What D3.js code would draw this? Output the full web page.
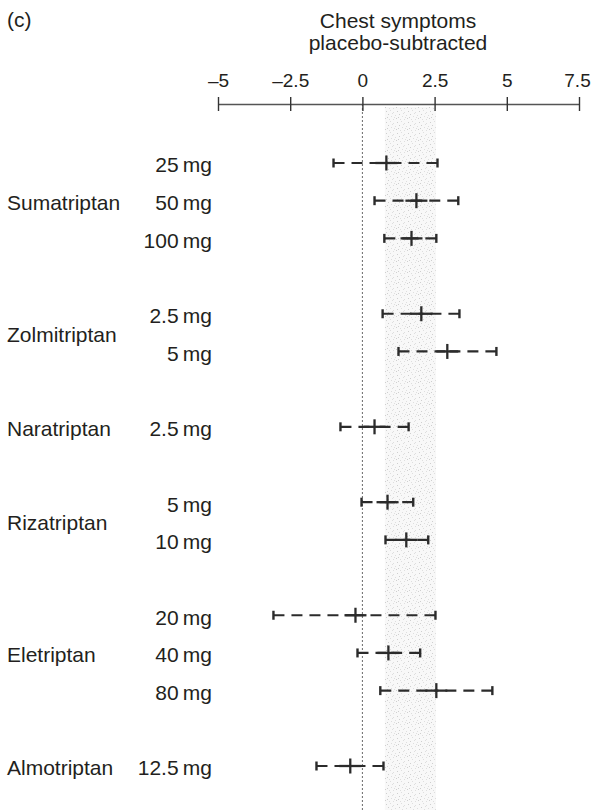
<!DOCTYPE html>
<html>
<head>
<meta charset="utf-8">
<script src="https://cdn.jsdelivr.net/npm/d3@7"></script>
<style>
  html, body { margin: 0; padding: 0; background: #fff; }
  svg { display: block; }
  text { font-family: "Liberation Sans", Arial, sans-serif; fill: #231f20; }
</style>
</head>
<body>
<svg id="chart" width="592" height="810"></svg>
<script>
// Chest symptoms, placebo-subtracted: mean and 95% CI per triptan dose
const drugNames = ["Sumatriptan", "Zolmitriptan", "Naratriptan", "Rizatriptan", "Eletriptan", "Almotriptan"];
const rowDrug   = ["Sumatriptan", "Sumatriptan", "Sumatriptan", "Zolmitriptan", "Zolmitriptan", "Naratriptan",
                   "Rizatriptan", "Rizatriptan", "Eletriptan", "Eletriptan", "Eletriptan", "Almotriptan"];
const doseLabels = ["25\u2009mg", "50\u2009mg", "100\u2009mg", "2.5\u2009mg", "5\u2009mg", "2.5\u2009mg",
                    "5\u2009mg", "10\u2009mg", "20\u2009mg", "40\u2009mg", "80\u2009mg", "12.5\u2009mg"];
const means  = [0.83, 1.87, 1.70, 2.04, 2.94, 0.42, 0.87, 1.52, -0.24, 0.90, 2.56, -0.42];
const lowers = [-1.00, 0.42, 0.76, 0.70, 1.25, -0.76, -0.03, 0.80, -3.08, -0.17, 0.62, -1.59];
const uppers = [2.60, 3.32, 2.56, 3.36, 4.64, 1.60, 1.76, 2.28, 2.53, 2.00, 4.50, 0.73];
const tickValues = [-5, -2.5, 0, 2.5, 5, 7.5];
const tickLabels = ["\u20135", "\u20132.5", "0", "2.5", "5", "7.5"];
const shadedBand = [0.78, 2.55];
const panelLabel = "(c)";
const titleLines = ["Chest symptoms", "placebo-subtracted"];

const svg = d3.select("#chart");
const W = 592, H = 810;
const axisY = 104;
const fs = 21;
const tickFs = 19;

const x = d3.scaleLinear().domain([-5, 7.5]).range([218, 579]);

// Row slots: rows of one drug are consecutive, one empty slot between drugs
const slots = [];
let s = 0;
rowDrug.forEach((d, i) => {
  if (i > 0 && d !== rowDrug[i - 1]) s += 1;
  slots.push(s);
  s += 1;
});
const y = d3.scaleLinear().domain([0, d3.max(slots)]).range([163, 766]);

const rows = means.map((m, i) => ({
  drug: rowDrug[i], dose: doseLabels[i], mean: m, lo: lowers[i], hi: uppers[i], slot: slots[i]
}));

// Stippled reference band
const defs = svg.append("defs");
const tile = 11;
const pat = defs.append("pattern").attr("id", "stipple")
  .attr("patternUnits", "userSpaceOnUse").attr("width", tile).attr("height", tile);
pat.append("rect").attr("width", tile).attr("height", tile).attr("fill", "#f8f8f8");
[[1, 1], [5, 0], [8, 2], [3, 4], [10, 5], [6, 6], [0, 8], [4, 9], [8, 9], [2, 7], [9, 7], [7, 3]].forEach(([px, py], k) => {
  pat.append("rect").attr("x", px).attr("y", py).attr("width", 1).attr("height", 1)
    .attr("fill", k % 3 === 0 ? "#cfcfcf" : "#dedede");
});
svg.append("rect")
  .attr("x", x(shadedBand[0])).attr("y", axisY + 3)
  .attr("width", x(shadedBand[1]) - x(shadedBand[0]))
  .attr("height", H - axisY - 3)
  .attr("fill", "url(#stipple)");

// Zero reference line
svg.append("line")
  .attr("x1", x(0)).attr("x2", x(0)).attr("y1", axisY).attr("y2", H)
  .attr("stroke", "#6a6a6a").attr("stroke-width", 1).attr("stroke-dasharray", "2,2");

// Top axis
const axis = d3.axisTop(x).tickValues(tickValues).tickFormat((d, i) => tickLabels[i])
  .tickSizeInner(7).tickSizeOuter(0).tickPadding(10);
const gAxis = svg.append("g").attr("transform", `translate(0,${axisY})`).call(axis);
gAxis.select(".domain").attr("stroke", "#555").attr("stroke-width", 1.4);
gAxis.selectAll(".tick line").attr("stroke", "#333").attr("stroke-width", 1.4).attr("y2", 7).attr("y1", -7);
gAxis.selectAll(".tick text").attr("font-size", tickFs).attr("fill", "#231f20")
  .style("font-family", "\"Liberation Sans\", Arial, sans-serif");
// keep the last label inside the page edge
gAxis.selectAll(".tick").filter(d => d === d3.max(tickValues)).select("text").attr("dx", -2);

// Titles
svg.append("text").attr("x", 7).attr("y", 27).attr("font-size", fs).text(panelLabel);
svg.append("text").attr("x", 398).attr("y", 28).attr("text-anchor", "middle").attr("font-size", fs).text(titleLines[0]);
svg.append("text").attr("x", 398).attr("y", 50).attr("text-anchor", "middle").attr("font-size", fs).text(titleLines[1]);

// Drug names, centred on their group of rows
drugNames.forEach(name => {
  const sl = rows.filter(r => r.drug === name).map(r => r.slot);
  svg.append("text").attr("x", 7).attr("y", y(d3.mean(sl)) + 2).attr("dy", "0.35em")
    .attr("font-size", fs).text(name);
});

// Dose labels
svg.selectAll("text.dose").data(rows).join("text").attr("class", "dose")
  .attr("x", 212).attr("y", d => y(d.slot) + 2).attr("dy", "0.35em")
  .attr("text-anchor", "end").attr("font-size", fs).text(d => d.dose);

// Interval marks
const ink = "#2b2b2b";
const g = svg.selectAll("g.ci").data(rows).join("g").attr("class", "ci");
// dashed halves, laid out from each end cap toward the mean
g.append("line").attr("x1", d => x(d.lo)).attr("x2", d => x(d.mean)).attr("y1", d => y(d.slot)).attr("y2", d => y(d.slot))
  .attr("stroke", ink).attr("stroke-width", 2.2).attr("stroke-dasharray", "11,7");
g.append("line").attr("x1", d => x(d.hi)).attr("x2", d => x(d.mean)).attr("y1", d => y(d.slot)).attr("y2", d => y(d.slot))
  .attr("stroke", ink).attr("stroke-width", 2.2).attr("stroke-dasharray", "11,7");
// end caps
["lo", "hi"].forEach(k => {
  g.append("line").attr("x1", d => x(d[k])).attr("x2", d => x(d[k]))
    .attr("y1", d => y(d.slot) - 4.5).attr("y2", d => y(d.slot) + 4.5)
    .attr("stroke", ink).attr("stroke-width", 2.4);
});
// mean cross
g.append("line").attr("x1", d => x(d.mean) - 11).attr("x2", d => x(d.mean) + 11)
  .attr("y1", d => y(d.slot)).attr("y2", d => y(d.slot)).attr("stroke", ink).attr("stroke-width", 2.3);
g.append("line").attr("x1", d => x(d.mean)).attr("x2", d => x(d.mean))
  .attr("y1", d => y(d.slot) - 7.5).attr("y2", d => y(d.slot) + 7.5).attr("stroke", ink).attr("stroke-width", 2.3);
</script>
</body>
</html>
